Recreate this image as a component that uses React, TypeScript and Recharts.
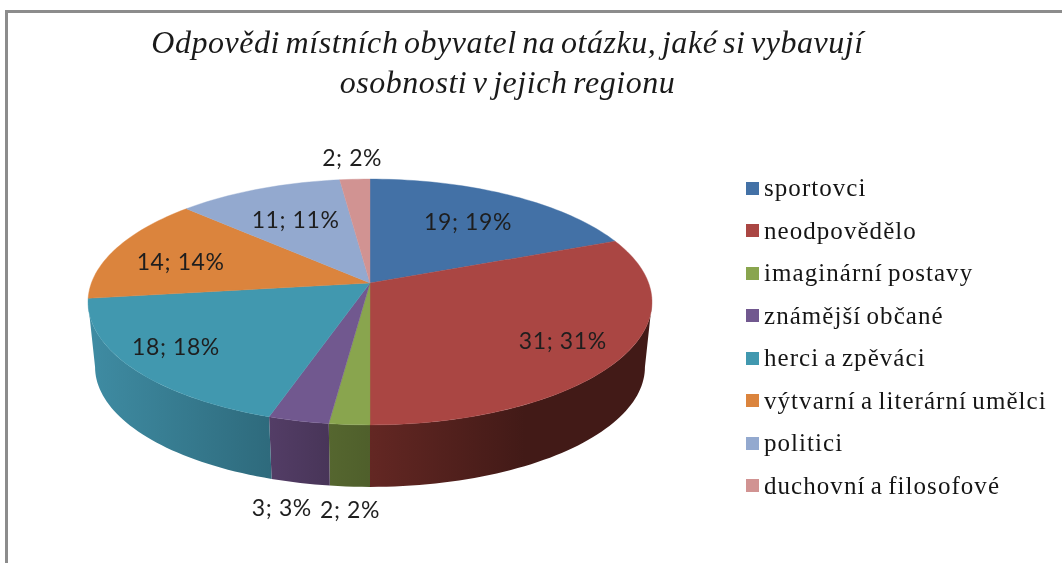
import { PieChart, Pie, Legend } from "recharts";

const categories = [
  "sportovci",
  "neodpovědělo",
  "imaginární postavy",
  "známější občané",
  "herci a zpěváci",
  "výtvarní a literární umělci",
  "politici",
  "duchovní a filosofové",
];
const values = [19, 31, 2, 3, 18, 14, 11, 2];
const colors = ["#4371a6", "#aa4643", "#89a54e", "#71588f", "#4198af", "#db843d", "#93a9cf", "#d19392"];
const wallFrom = ["#37597f", "#632723", "#55662f", "#533d66", "#3f8ca3", "#a5632e", "#6f80a0", "#a06f6e"];
const wallTo = ["#2c4766", "#421a17", "#4f5f2b", "#483558", "#2e6a7c", "#8a5226", "#5c6a85", "#855c5b"];
// how far from the centre each label sits, 1 = rim
const labelReach = [0.68, 0.78, 0.97, 1.19, 0.83, 0.74, 0.64, 1.21];
// small vertical nudges so labels land where the original put them
const labelNudge = [0, 1, 0, 2, -6, 5, -1, -4];

const data = categories.map((name, i) => ({ name, value: values[i], fill: colors[i] }));

// the 3D look: a flat circle seen in perspective
const RX = 278.6;
const RY = 120;
const TILT = 0.1545;
const WALL_SHRINK = 0.975;
const WALL_DROP = 65.5;
const WALL_FROM = 98.9;
const WALL_TO = 261.1;

function project(cx: number, cy: number, deg: number, reach = 1) {
  const t = (deg * Math.PI) / 180;
  const u = Math.sin(t) * reach;
  const v = Math.cos(t) * reach;
  const w = 1 + TILT * v;
  return { x: cx + (RX * u) / w, y: cy - (RY * v) / w };
}

function rim(cx: number, cy: number, a: number, b: number) {
  const steps = Math.max(2, Math.ceil(Math.abs(b - a) / 1.5));
  return Array.from({ length: steps + 1 }, (_, i) => project(cx, cy, a + ((b - a) * i) / steps));
}

const toPath = (pts: { x: number; y: number }[]) =>
  pts.map((p, i) => `${i ? "L" : "M"}${p.x.toFixed(2)} ${p.y.toFixed(2)}`).join(" ") + " Z";

function Slice3D(props: any) {
  const { cx, cy, startAngle, endAngle, index, fill } = props;
  const a = 90 - startAngle;
  const b = 90 - endAngle;
  const top = rim(cx, cy, a, b);
  const wa = Math.max(a, WALL_FROM);
  const wb = Math.min(b, WALL_TO);
  let wall = null;
  if (wb > wa) {
    const upper = rim(cx, cy, wa, wb);
    const lower = upper
      .map((p) => ({ x: cx + (p.x - cx) * WALL_SHRINK, y: cy + (p.y - cy) * WALL_SHRINK + WALL_DROP }))
      .reverse();
    const xs = [...upper, ...lower].map((p) => p.x);
    const id = `wall-${index}`;
    wall = (
      <g>
        <defs>
          <linearGradient id={id} gradientUnits="userSpaceOnUse" x1={Math.min(...xs)} x2={Math.max(...xs)} y1={0} y2={0}>
            <stop offset="0%" stopColor={wallFrom[index]} />
            <stop offset={index === 1 ? "55%" : "100%"} stopColor={wallTo[index]} />
          </linearGradient>
        </defs>
        <path d={toPath([...upper, ...lower])} fill={`url(#${id})`} />
      </g>
    );
  }
  return (
    <g>
      {wall}
      <path d={toPath([{ x: cx, y: cy }, ...top])} fill={fill} stroke={fill} strokeWidth={0.4} />
    </g>
  );
}

function SliceLabel(props: any) {
  const { cx, cy, midAngle, index, value, percent } = props;
  const deg = 90 - midAngle;
  const p = project(cx, cy, deg, labelReach[index]);
  // small front slices get their label under the wall
  const under = index === 2 || index === 3;
  const y = (under ? project(cx, cy, deg).y + WALL_DROP + 19 : p.y) + labelNudge[index];
  return (
    <text
      x={p.x}
      y={y}
      textAnchor="middle"
      dominantBaseline="central"
      fontFamily="Lato, sans-serif"
      fontSize={23}
      letterSpacing={0.6}
      fill="#1e1e1e"
    >
      {`${value}; ${Math.round(percent * 100)}%`}
    </text>
  );
}

function ChartLegend({ payload }: any) {
  return (
    <div>
      {(payload || []).map((entry: any) => (
        <div key={entry.value} style={{ height: 42.5, display: "flex", alignItems: "center", whiteSpace: "nowrap" }}>
          <span style={{ width: 13, height: 13, background: entry.color, marginRight: 5, flex: "none" }} />
          <span style={{ fontFamily: "'Liberation Serif', serif", fontSize: 25, letterSpacing: 1.05, wordSpacing: -2, color: "#151515" }}>
            {entry.value}
          </span>
        </div>
      ))}
    </div>
  );
}

export default function App() {
  return (
    <div style={{ position: "fixed", left: 0, top: 0, width: 1062, height: 563, background: "#fff", overflow: "hidden", filter: "blur(0.35px)" }}>
      <div style={{ position: "absolute", left: 5, top: 10, width: 1100, height: 600, border: "3px solid #8c8c8c", boxSizing: "border-box" }} />
      <div
        style={{
          position: "absolute",
          left: 0,
          top: 22,
          width: 1015,
          textAlign: "center",
          fontFamily: "'Liberation Serif', serif",
          fontStyle: "italic",
          fontSize: 32,
          lineHeight: "40px",
          letterSpacing: 0.55,
          wordSpacing: -3,
          color: "#1a1a1a",
        }}
      >
        Odpovědi místních obyvatel na otázku, jaké si vybavují
        <br />
        osobnosti v jejich regionu
      </div>
      <div style={{ position: "absolute", left: 0, top: 0 }}>
        <PieChart width={1062} height={563} margin={{ top: 0, right: 0, bottom: 0, left: 0 }}>
          <Pie
            data={data}
            dataKey="value"
            nameKey="name"
            cx={370}
            cy={283}
            outerRadius={120}
            startAngle={90}
            endAngle={-270}
            stroke="none"
            shape={Slice3D}
            label={SliceLabel}
            labelLine={false}
            isAnimationActive={false}
          />
          <Legend
            layout="vertical"
            content={ChartLegend}
            itemSorter={null}
            wrapperStyle={{ position: "absolute", left: 746, top: 167, width: 316, bottom: "auto", right: "auto" }}
          />
        </PieChart>
      </div>
    </div>
  );
}
